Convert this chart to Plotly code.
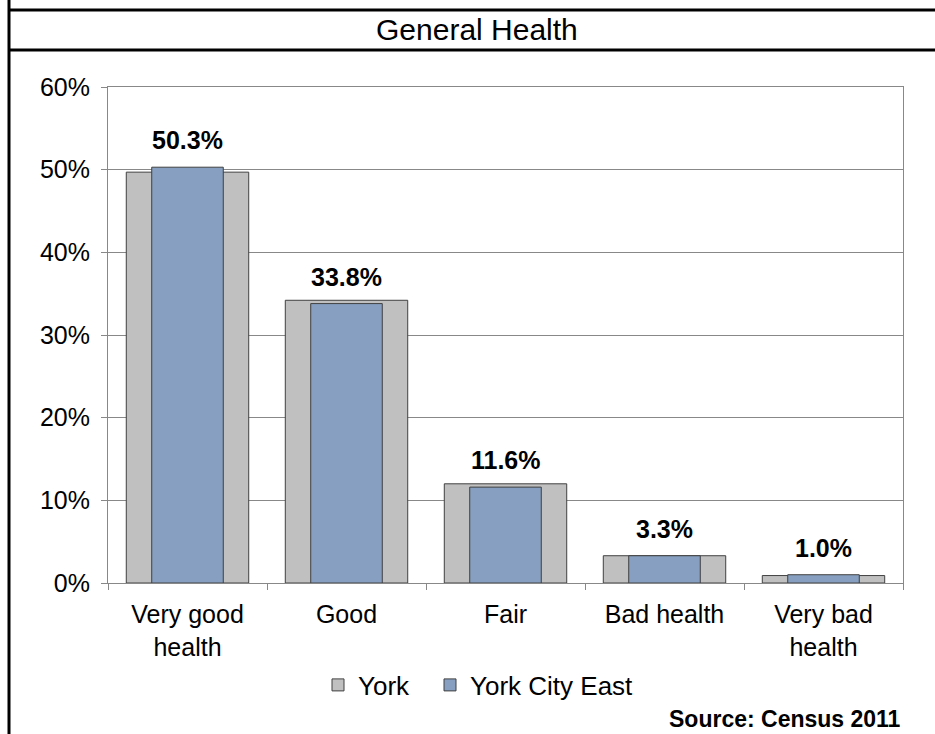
import plotly.graph_objects as go

categories = ["Very good<br>health", "Good", "Fair", "Bad health", "Very bad<br>health"]
york = [49.7, 34.2, 12.0, 3.3, 0.9]
york_city_east = [50.3, 33.8, 11.6, 3.3, 1.0]
labels = ["50.3%", "33.8%", "11.6%", "3.3%", "1.0%"]
y_ticks = [0, 10, 20, 30, 40, 50, 60]
y_tick_text = ["0%", "10%", "20%", "30%", "40%", "50%", "60%"]

W, H = 935, 734
L, R, T, B = 108, 32, 87, 151
pw, ph = W - L - R, H - T - B

def px(x):
    return (x - L) / pw

def py(y):
    return (H - B - y) / ph

FONT = "Liberation Sans, Arial, sans-serif"

fig = go.Figure()
fig.add_trace(go.Bar(
    x=categories, y=york, name="York", width=0.77, legend="legend",
    marker=dict(color="#C0C0C0", line=dict(color="#404040", width=1)),
))
fig.add_trace(go.Bar(
    x=categories, y=york_city_east, name="York City East", width=0.45, legend="legend2",
    marker=dict(color="#879FC0", line=dict(color="#404040", width=1)),
))

for c, v, t in zip(categories, york_city_east, labels):
    fig.add_annotation(x=c, y=v, text="<b>" + t + "</b>", showarrow=False,
                       yanchor="bottom", yshift=11, font=dict(size=25, color="black", family=FONT))

fig.add_annotation(x=px(477), xref="paper", xanchor="center", y=py(30), yref="paper", yanchor="middle",
                   text="General Health", showarrow=False, font=dict(size=30, color="black", family=FONT))
fig.add_annotation(x=1.0, xref="paper", xanchor="right", y=py(719), yref="paper", yanchor="middle",
                   text="<b>Source: Census 2011</b>", showarrow=False,
                   font=dict(size=23, color="black", family=FONT))

line = dict(color="black", width=3)
fig.add_shape(type="line", xref="paper", yref="paper", x0=px(9), x1=px(940), y0=py(10), y1=py(10), line=line)
fig.add_shape(type="line", xref="paper", yref="paper", x0=px(9), x1=px(940), y0=py(50), y1=py(50), line=line)
fig.add_shape(type="line", xref="paper", yref="paper", x0=px(9), x1=px(9), y0=py(-5), y1=py(740), line=line)

legend_common = dict(orientation="h", xanchor="left", y=py(685), yanchor="middle",
                     font=dict(size=26, family=FONT), itemwidth=30, bgcolor="rgba(0,0,0,0)")

fig.update_layout(
    width=W, height=H,
    margin=dict(l=L, r=R, t=T, b=B),
    barmode="overlay",
    plot_bgcolor="white", paper_bgcolor="white",
    font=dict(family=FONT, size=25, color="black"),
    showlegend=True,
    legend=dict(x=px(318), **legend_common),
    legend2=dict(x=px(430), **legend_common),
)
fig.update_xaxes(
    showline=True, linecolor="#888888", linewidth=1, mirror=True,
    ticks="outside", tickson="boundaries", ticklen=6, tickcolor="#888888",
    showgrid=False, tickfont=dict(size=25), ticklabelstandoff=9,
)
fig.update_yaxes(
    range=[0, 60], tickvals=y_ticks, ticktext=y_tick_text,
    showline=True, linecolor="#888888", linewidth=1, mirror=True,
    ticks="outside", ticklen=6, tickcolor="#888888",
    showgrid=True, gridcolor="#888888", gridwidth=1,
    tickfont=dict(size=25), ticklabelstandoff=6, zeroline=False,
)

fig.write_html("out.html", post_script="document.body.style.margin='0';",
               config={"displayModeBar": False})
